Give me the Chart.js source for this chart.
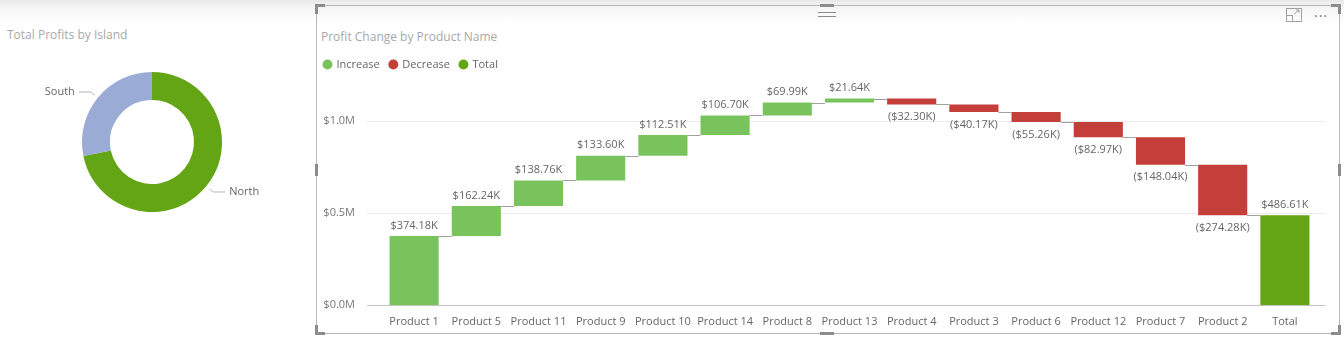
<!DOCTYPE html>
<html>
<head>
<meta charset="utf-8">
<title>Profit Change by Product Name</title>
<script src="https://cdn.jsdelivr.net/npm/chart.js@4.4.1/dist/chart.umd.min.js"></script>
<style>
    html, body { margin: 0; padding: 0; }
    body {
        width: 1344px;
        height: 340px;
        position: relative;
        overflow: hidden;
        background: linear-gradient(#e8e8e8 0px, #f6f6f6 8px, #ffffff 24px);
        font-family: "Segoe UI", "Open Sans", sans-serif;
    }
    .title { position: absolute; font-size: 12px; color: #a8a8a8; white-space: nowrap; }
    #islandWrap { position: absolute; left: 0; top: 40px; width: 310px; height: 240px; }
    #waterfallWrap { position: absolute; left: 314px; top: 21px; width: 1025px; height: 313px; }
    .frame {
        position: absolute; left: 316px; top: 5px; width: 1024px; height: 329px;
        border: 1px solid #b8b8b8; box-sizing: border-box;
    }
    .handle { position: absolute; background: #8c8c8c; }
    .grip { position: absolute; left: 818px; width: 18px; height: 1px; background: #8a8a8a; }
    .dots { position: absolute; left: 1314px; top: 6px; font-size: 14px; color: #777; letter-spacing: 1px; }
    .expand { position: absolute; left: 1286px; top: 8px; }
</style>
</head>
<body>
<div class="frame"></div>
<!-- selection handles -->
<div class="handle" style="left:315px;top:4px;width:10px;height:3px"></div>
<div class="handle" style="left:315px;top:4px;width:3px;height:10px"></div>
<div class="handle" style="left:1331px;top:4px;width:10px;height:3px"></div>
<div class="handle" style="left:1338px;top:4px;width:3px;height:10px"></div>
<div class="handle" style="left:315px;top:332px;width:10px;height:3px"></div>
<div class="handle" style="left:315px;top:325px;width:3px;height:10px"></div>
<div class="handle" style="left:1331px;top:332px;width:10px;height:3px"></div>
<div class="handle" style="left:1338px;top:325px;width:3px;height:10px"></div>
<div class="handle" style="left:315px;top:164px;width:3px;height:12px"></div>
<div class="handle" style="left:1338px;top:164px;width:3px;height:12px"></div>
<div class="handle" style="left:820px;top:4px;width:14px;height:3px"></div>
<div class="handle" style="left:820px;top:332px;width:14px;height:3px"></div>
<div class="grip" style="top:12px"></div>
<div class="grip" style="top:16px"></div>
<svg class="expand" width="16" height="14" viewBox="0 0 16 14">
    <rect x="0.5" y="0.5" width="15" height="13" fill="none" stroke="#a0a0a0"/>
    <rect x="0.5" y="7.5" width="6" height="6" fill="none" stroke="#a0a0a0"/>
    <path d="M8 6 L13 2 M10 2 H13 V5" fill="none" stroke="#a0a0a0"/>
</svg>
<div class="dots">&middot;&middot;&middot;</div>

<div class="title" style="left:7px;top:26px">Total Profits by Island</div>
<div class="title" style="left:321px;top:28px">Profit Change by Product Name</div>

<div id="islandWrap"><canvas id="islandChart"></canvas></div>
<div id="waterfallWrap"><canvas id="waterfallChart"></canvas></div>

<script>
// Profit by island ($K)
const islands = ['North', 'South'];
const islandProfits = [349.4, 137.2];
const islandColors = ['#63a515', '#9aabd6'];

// Profit change per product ($K), in waterfall order
const products = ['Product 1', 'Product 5', 'Product 11', 'Product 9', 'Product 10', 'Product 14', 'Product 8',
    'Product 13', 'Product 4', 'Product 3', 'Product 6', 'Product 12', 'Product 7', 'Product 2'];
const changes = [374.18, 162.24, 138.76, 133.60, 112.51, 106.70, 69.99,
    21.64, -32.30, -40.17, -55.26, -82.97, -148.04, -274.28];
const totalProfit = 486.61;
const totalLabel = 'Total';

// Y axis ticks in $M
const yTicks = [0, 0.5, 1.0];

const legendNames = ['Increase', 'Decrease', 'Total'];
const legendColors = ['#79c35c', '#c43e3a', '#63a515'];

const FONT = '"Segoe UI", "Open Sans", sans-serif';
const TEXT_GRAY = '#666666';

// Build floating bars from the running total
const running = [];
const bars = [];
const barColors = [];
let acc = 0;
changes.forEach(c => {
    const start = acc;
    acc += c;
    running.push(acc);
    bars.push([Math.min(start, acc) / 1000, Math.max(start, acc) / 1000]);
    barColors.push(c >= 0 ? legendColors[0] : legendColors[1]);
});
bars.push([0, totalProfit / 1000]);
barColors.push(legendColors[2]);
running.push(totalProfit);

const allValues = changes.concat([totalProfit]);

function formatK(v) {
    const s = '$' + Math.abs(v).toFixed(2) + 'K';
    return v < 0 ? '(' + s + ')' : s;
}

// Donut leader lines and labels
const calloutPlugin = {
    id: 'calloutLabels',
    afterDatasetsDraw(chart) {
        const ctx = chart.ctx;
        const meta = chart.getDatasetMeta(0);
        ctx.save();
        ctx.font = '11px ' + FONT;
        ctx.strokeStyle = '#b4b4b4';
        ctx.lineWidth = 1;
        ctx.fillStyle = TEXT_GRAY;
        ctx.textBaseline = 'middle';
        meta.data.forEach((arc, i) => {
            const p = arc.getProps(['x', 'y', 'startAngle', 'endAngle', 'outerRadius'], true);
            const mid = (p.startAngle + p.endAngle) / 2;
            const cos = Math.cos(mid), sin = Math.sin(mid);
            const x0 = p.x + cos * (p.outerRadius + 4), y0 = p.y + sin * (p.outerRadius + 4);
            const x1 = p.x + cos * (p.outerRadius + 9), y1 = p.y + sin * (p.outerRadius + 9);
            const dir = cos >= 0 ? 1 : -1;
            const x2 = x1 + dir * 12;
            ctx.beginPath();
            ctx.moveTo(x0, y0);
            ctx.lineTo(x1, y1);
            ctx.lineTo(x2, y1);
            ctx.stroke();
            ctx.textAlign = dir > 0 ? 'left' : 'right';
            ctx.fillText(chart.data.labels[i], x2 + dir * 4, y1);
        });
        ctx.restore();
    }
};

new Chart(document.getElementById('islandChart'), {
    type: 'doughnut',
    data: {
        labels: islands,
        datasets: [{
            data: islandProfits,
            backgroundColor: islandColors,
            borderWidth: 0
        }]
    },
    options: {
        responsive: true,
        maintainAspectRatio: false,
        animation: false,
        cutout: '60%',
        layout: { padding: { left: 82, right: 88, top: 32, bottom: 68 } },
        plugins: {
            legend: { display: false },
            tooltip: { enabled: false }
        }
    },
    plugins: [calloutPlugin]
});

// Horizontal gridlines, a little wider than the plot area
const gridPlugin = {
    id: 'wideGrid',
    beforeDatasetsDraw(chart) {
        const {ctx, chartArea, scales: {y}} = chart;
        ctx.save();
        ctx.lineWidth = 1;
        yTicks.forEach(v => {
            const py = Math.round(y.getPixelForValue(v)) + 0.5;
            ctx.strokeStyle = v === 0 ? '#c4c4c4' : '#ebebeb';
            ctx.beginPath();
            ctx.moveTo(chartArea.left - 16, py);
            ctx.lineTo(chartArea.right + 9, py);
            ctx.stroke();
        });
        ctx.restore();
    }
};

// Connectors between steps and the value labels
const waterfallPlugin = {
    id: 'waterfallExtras',
    afterDatasetsDraw(chart) {
        const {ctx, scales: {y}} = chart;
        const meta = chart.getDatasetMeta(0);
        ctx.save();
        ctx.strokeStyle = '#a0a0a0';
        ctx.lineWidth = 1;
        for (let i = 0; i < meta.data.length - 1; i++) {
            const a = meta.data[i], b = meta.data[i + 1];
            const py = Math.round(y.getPixelForValue(running[i] / 1000)) + 0.5;
            ctx.beginPath();
            ctx.moveTo(a.x + a.width / 2, py);
            ctx.lineTo(b.x - b.width / 2, py);
            ctx.stroke();
        }
        ctx.font = '11px ' + FONT;
        ctx.fillStyle = TEXT_GRAY;
        ctx.textAlign = 'center';
        meta.data.forEach((bar, i) => {
            const v = allValues[i];
            const top = Math.min(bar.y, bar.base);
            const bottom = Math.max(bar.y, bar.base);
            if (v >= 0) {
                ctx.textBaseline = 'bottom';
                ctx.fillText(formatK(v), bar.x, top - 5);
            } else {
                ctx.textBaseline = 'top';
                ctx.fillText(formatK(v), bar.x, bottom + 7);
            }
        });
        ctx.restore();
    }
};

new Chart(document.getElementById('waterfallChart'), {
    type: 'bar',
    data: {
        labels: products.concat([totalLabel]),
        datasets: [{
            data: bars,
            backgroundColor: barColors,
            borderWidth: 0,
            categoryPercentage: 1,
            barPercentage: 0.79
        }]
    },
    options: {
        responsive: true,
        maintainAspectRatio: false,
        animation: false,
        layout: { padding: { left: 0, right: 23, top: 28, bottom: 0 } },
        plugins: {
            legend: {
                position: 'top',
                align: 'start',
                onClick: null,
                labels: {
                    usePointStyle: true,
                    boxWidth: 7,
                    boxHeight: 7,
                    padding: 10,
                    color: TEXT_GRAY,
                    font: { size: 11, family: FONT },
                    generateLabels: () => legendNames.map((name, i) => ({
                        text: name,
                        fillStyle: legendColors[i],
                        strokeStyle: legendColors[i],
                        lineWidth: 0,
                        pointStyle: 'circle',
                        fontColor: TEXT_GRAY,
                        hidden: false,
                        datasetIndex: 0
                    }))
                }
            },
            tooltip: { enabled: false }
        },
        scales: {
            x: {
                grid: { display: false, drawTicks: false },
                border: { display: false },
                ticks: {
                    color: TEXT_GRAY,
                    font: { size: 11, family: FONT },
                    padding: 10,
                    autoSkip: false,
                    maxRotation: 0
                },
                afterFit: axis => { axis.height = 29; }
            },
            y: {
                min: 0,
                max: 1.22,
                grid: { display: false, drawTicks: false },
                border: { display: false },
                afterBuildTicks: axis => { axis.ticks = yTicks.map(v => ({ value: v })); },
                ticks: {
                    color: '#777777',
                    font: { size: 11, family: FONT },
                    padding: 28,
                    callback: v => '$' + Number(v).toFixed(1) + 'M'
                },
                // the wide label gap should not push the plot away from the x axis
                afterFit: axis => {
                    axis.width = 69;
                    axis.paddingTop = 0;
                    axis.paddingBottom = 0;
                }
            }
        }
    },
    plugins: [gridPlugin, waterfallPlugin]
});
</script>
</body>
</html>
